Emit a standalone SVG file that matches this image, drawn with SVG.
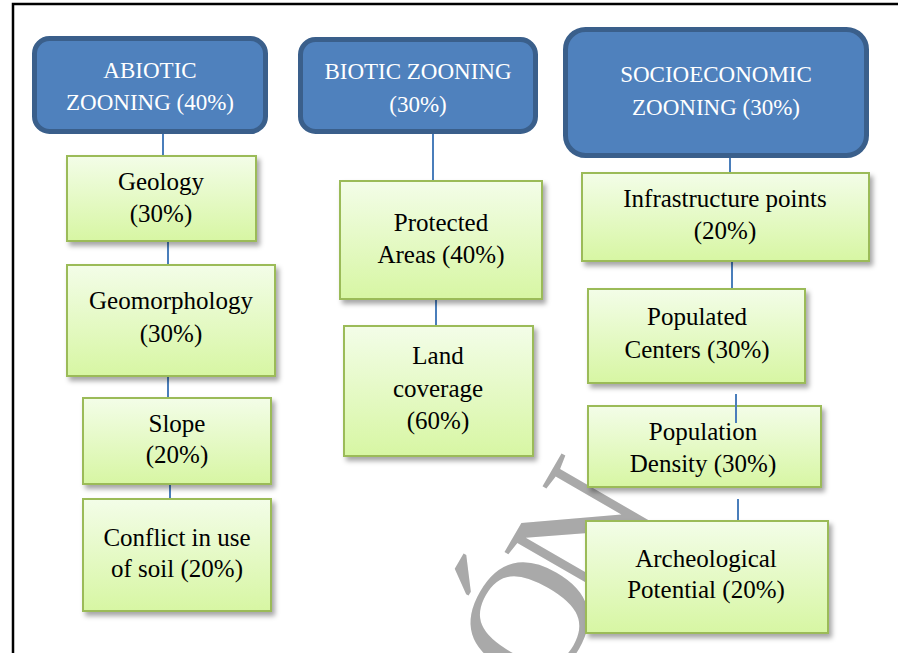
<svg xmlns="http://www.w3.org/2000/svg" width="903" height="653" viewBox="0 0 903 653">
<defs>
<linearGradient id="gr" x1="0" y1="0" x2="0" y2="1">
<stop offset="0" stop-color="#f3fde8"/>
<stop offset="1" stop-color="#d7f6a3"/>
</linearGradient>
<filter id="sh" x="-10%" y="-10%" width="130%" height="130%">
<feDropShadow dx="3" dy="4" stdDeviation="2.5" flood-color="#000" flood-opacity="0.35"/>
</filter>
<style>
.hd{fill:#4f81bd;stroke:#3a5f8b;stroke-width:5}
.gb{fill:url(#gr);stroke:#9bbb59;stroke-width:2;filter:url(#sh)}
.t{font-family:"Liberation Serif","Times New Roman",serif;text-anchor:middle}
.ht{font-size:23px;fill:#fff}
.gt{font-size:25px;fill:#000}
.c{stroke:#4a7ebb;stroke-width:2;fill:none}
.wm{font-family:"Liberation Serif","Times New Roman",serif;font-size:170px;fill:#a9a9a9;letter-spacing:-20px}
</style>
</defs>
<rect width="903" height="653" fill="#fff"/>
<path d="M13,653 V4 H898" fill="none" stroke="#000" stroke-width="2.5"/>
<text class="wm" transform="translate(547,701) rotate(-60)">ÓN</text>

<g id="connectors">
<line class="c" x1="163" y1="133" x2="163" y2="156"/>
<line class="c" x1="168" y1="241" x2="168" y2="265"/>
<line class="c" x1="168" y1="376" x2="168" y2="398"/>
<line class="c" x1="170" y1="484" x2="170" y2="500"/>
<line class="c" x1="433" y1="133" x2="433" y2="181"/>
<line class="c" x1="436" y1="299" x2="436" y2="326"/>
<line class="c" x1="730" y1="142" x2="730" y2="173"/>
<line class="c" x1="732" y1="261" x2="732" y2="289"/>
<line class="c" x1="738" y1="499" x2="738" y2="521"/>
</g>

<g id="abiotic">
<rect class="hd" x="34.5" y="38.5" width="231" height="93" rx="15"/>
<text class="t ht" x="150" y="78">ABIOTIC</text>
<text class="t ht" x="150" y="110">ZOONING (40%)</text>
</g>
<g id="biotic">
<rect class="hd" x="300.5" y="39.5" width="235" height="92" rx="15"/>
<text class="t ht" x="418" y="79">BIOTIC ZOONING</text>
<text class="t ht" x="418" y="112">(30%)</text>
</g>
<g id="socioeconomic">
<rect class="hd" x="565.5" y="29.5" width="301" height="126" rx="20"/>
<text class="t ht" x="716" y="82">SOCIOECONOMIC</text>
<text class="t ht" x="716" y="115">ZOONING (30%)</text>
</g>

<g id="geology">
<rect class="gb" x="67" y="156" width="189" height="85"/>
<text class="t gt" x="161" y="190">Geology</text>
<text class="t gt" x="161" y="222">(30%)</text>
</g>
<g id="geomorphology">
<rect class="gb" x="67" y="265" width="208" height="111"/>
<text class="t gt" x="171" y="309">Geomorphology</text>
<text class="t gt" x="171" y="342">(30%)</text>
</g>
<g id="slope">
<rect class="gb" x="83" y="398" width="188" height="86"/>
<text class="t gt" x="177" y="432">Slope</text>
<text class="t gt" x="177" y="463">(20%)</text>
</g>
<g id="conflict">
<rect class="gb" x="83" y="499" width="188" height="112"/>
<text class="t gt" x="177" y="546">Conflict in use</text>
<text class="t gt" x="177" y="577">of soil (20%)</text>
</g>

<g id="protected">
<rect class="gb" x="340" y="181" width="202" height="118"/>
<text class="t gt" x="441" y="231">Protected</text>
<text class="t gt" x="441" y="263">Areas (40%)</text>
</g>
<g id="land">
<rect class="gb" x="344" y="326" width="189" height="130"/>
<text class="t gt" x="438" y="364">Land</text>
<text class="t gt" x="438" y="397">coverage</text>
<text class="t gt" x="438" y="429">(60%)</text>
</g>

<g id="infrastructure">
<rect class="gb" x="582" y="173" width="287" height="88"/>
<text class="t gt" x="725" y="207">Infrastructure points</text>
<text class="t gt" x="725" y="239">(20%)</text>
</g>
<g id="populated">
<rect class="gb" x="588" y="289" width="217" height="94"/>
<text class="t gt" x="697" y="325">Populated</text>
<text class="t gt" x="697" y="358">Centers (30%)</text>
</g>
<g id="density">
<rect class="gb" x="588" y="406" width="233" height="81"/>
<text class="t gt" x="703" y="440">Population</text>
<text class="t gt" x="703" y="472">Density (30%)</text>
</g>
<line class="c" x1="736" y1="394" x2="736" y2="423"/>
<g id="archeological">
<rect class="gb" x="586" y="521" width="242" height="112"/>
<text class="t gt" x="706" y="567">Archeological</text>
<text class="t gt" x="706" y="598">Potential (20%)</text>
</g>
</svg>
